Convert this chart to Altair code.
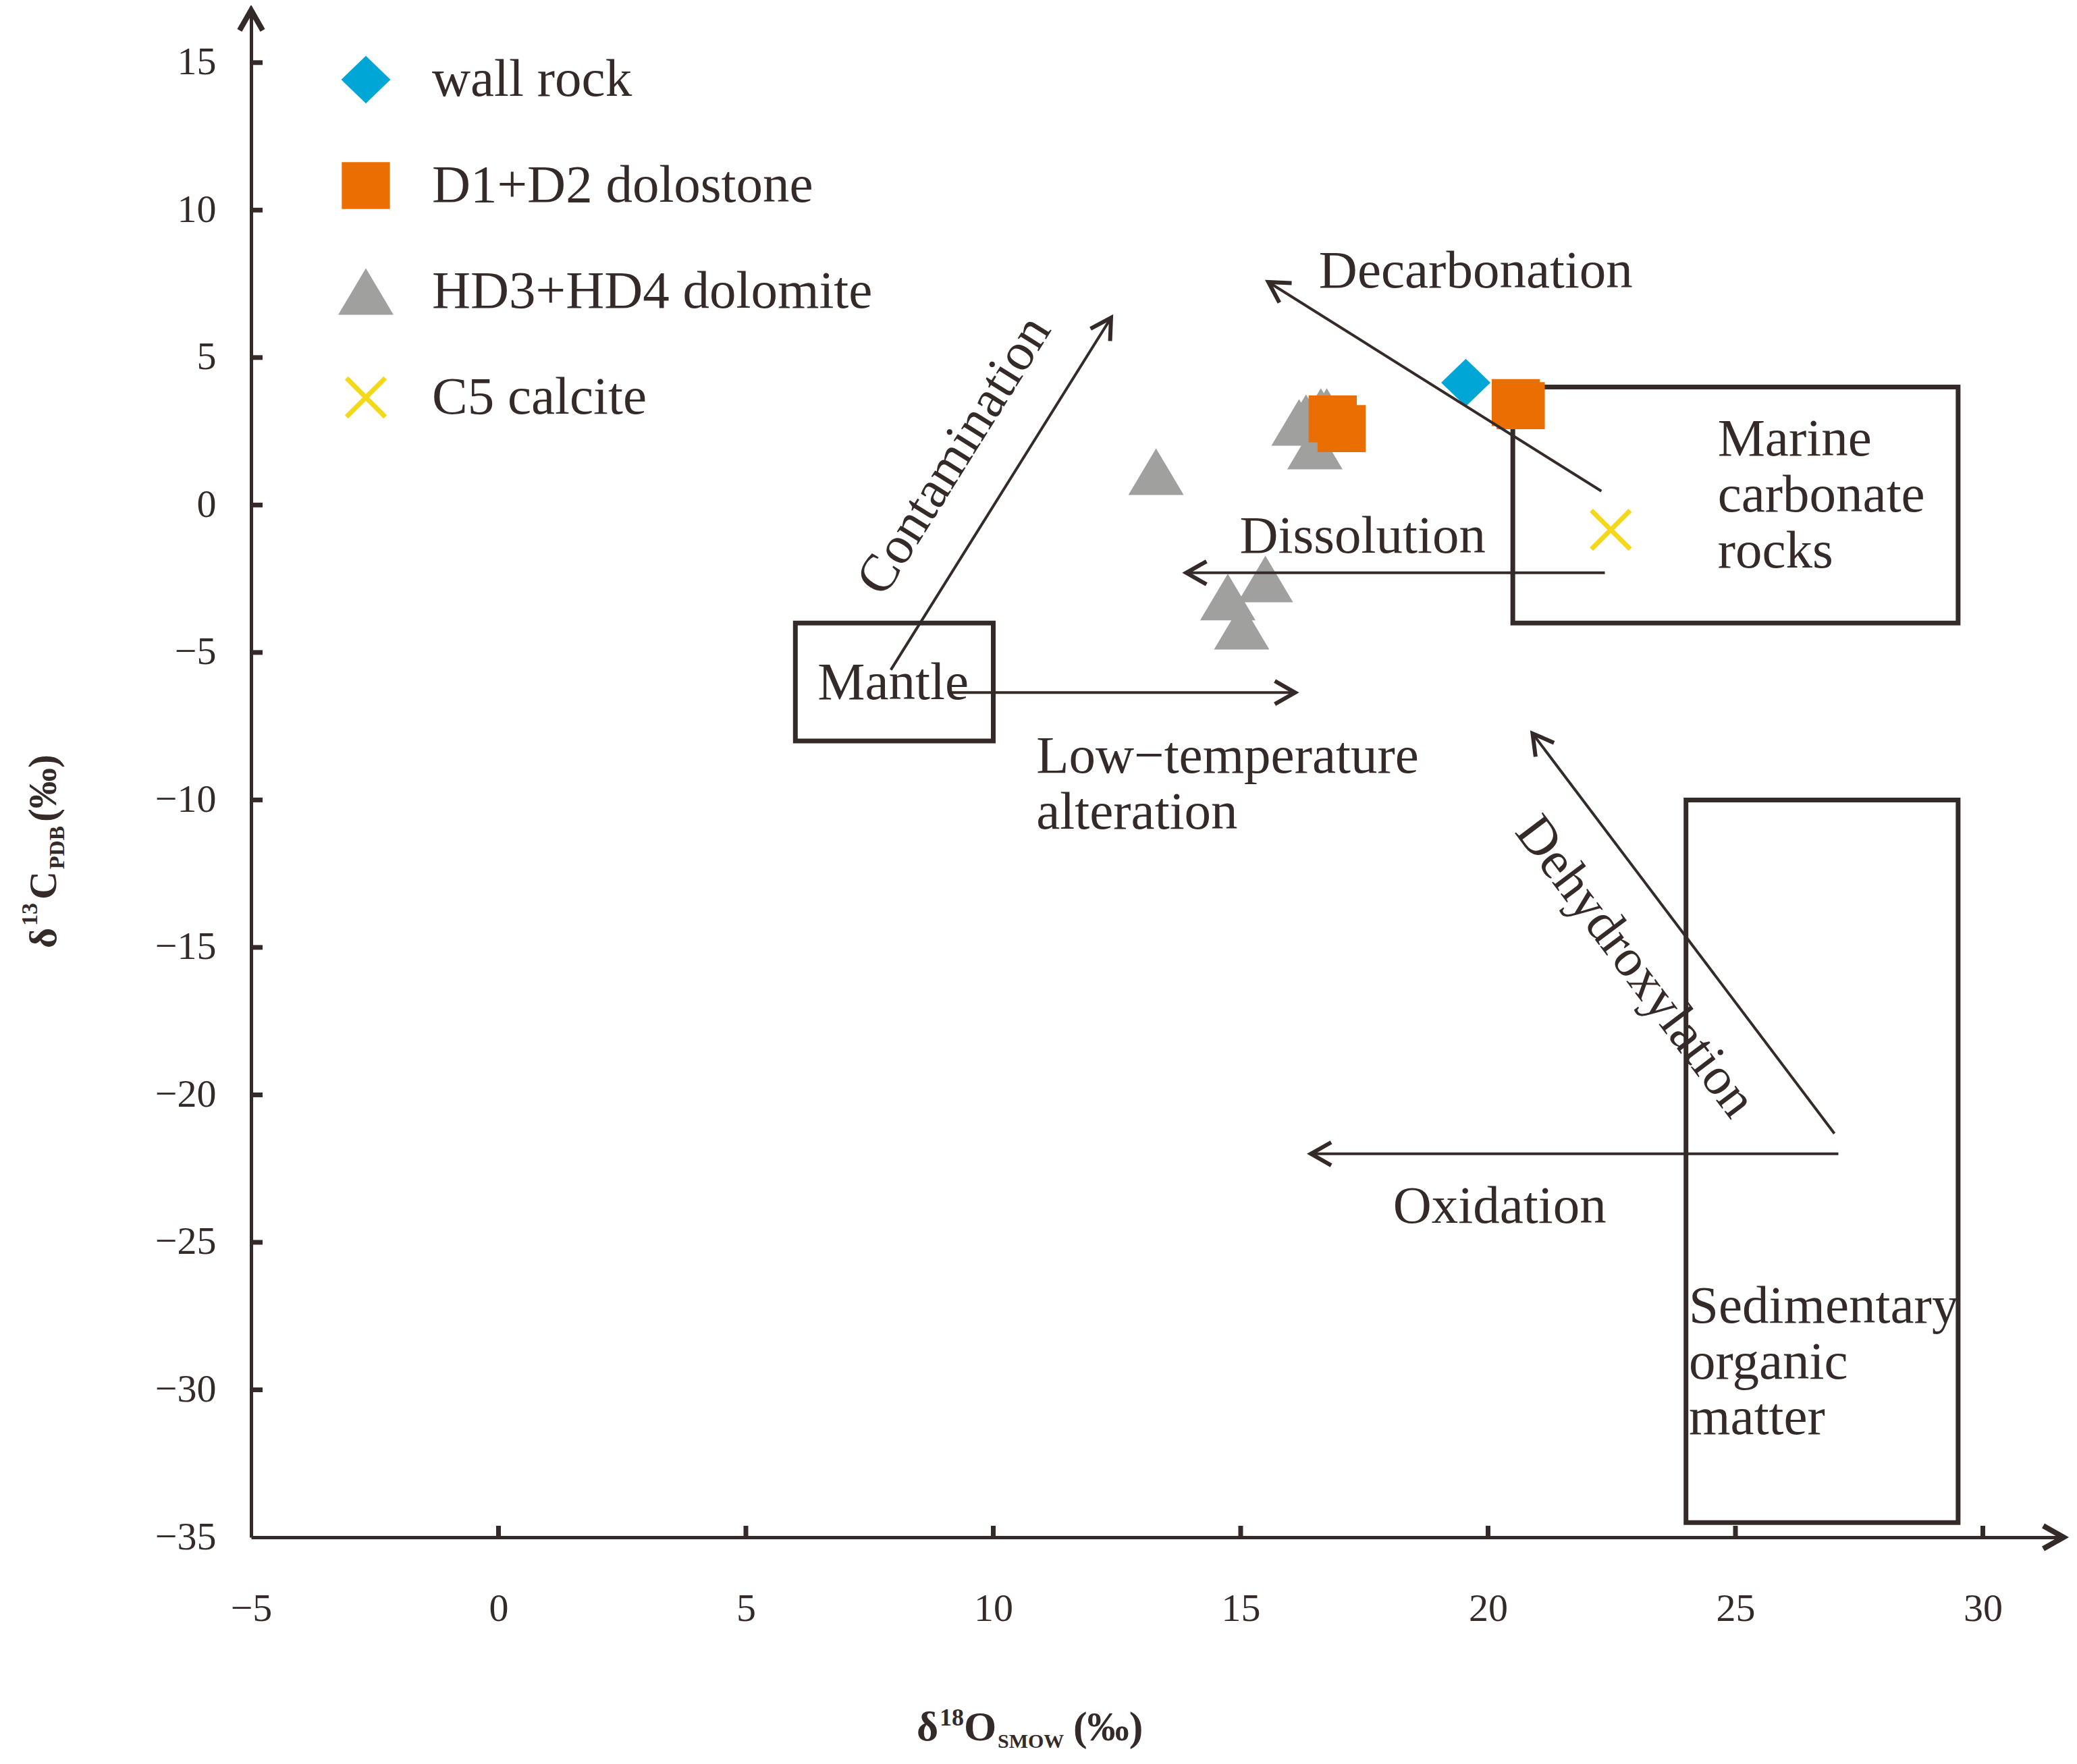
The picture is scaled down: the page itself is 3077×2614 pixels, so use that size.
import math
import altair as alt
import pandas as pd

# ---------------- data ----------------
series_names = ["wall rock", "D1+D2 dolostone", "HD3+HD4 dolomite", "C5 calcite"]
series_colors = ["#00a6d6", "#eb6e02", "#a0a19f", "#f5d81a"]

wall_x = [19.55]
wall_y = [4.15]
dolo_x = [16.86, 17.04, 20.56, 20.66]
dolo_y = [2.92, 2.59, 3.47, 3.37]
hd_x = [13.29, 16.18, 16.32, 16.62, 16.74, 16.50, 15.50, 14.74, 15.02]
hd_y = [1.13, 2.80, 2.96, 3.17, 3.17, 2.00, -2.51, -3.12, -4.11]
c5_x = [22.48]
c5_y = [-0.84]

x_ticks = [-5, 0, 5, 10, 15, 20, 25, 30]
y_ticks = [-35, -30, -25, -20, -15, -10, -5, 0, 5, 10, 15]

box_names = ["Mantle", "Marine carbonate rocks", "Sedimentary organic matter"]
box_x1 = [6, 20.5, 24]
box_x2 = [10, 29.5, 29.5]
box_y1 = [-8, -4, -34.5]
box_y2 = [-4, 4, -10]

arrow_names = ["Contamination", "Decarbonation", "Dissolution",
               "Low-temperature alteration", "Dehydroxylation", "Oxidation"]
arrow_x1 = [7.93, 22.29, 22.36, 9.13, 27.00, 27.08]
arrow_y1 = [-5.59, 0.47, -2.30, -6.36, -21.31, -22.00]
arrow_x2 = [12.38, 15.56, 13.90, 16.10, 20.90, 16.42]
arrow_y2 = [6.35, 7.56, -2.30, -6.36, -7.75, -22.00]

label_text = ["Decarbonation", "Dissolution", "Marine", "carbonate", "rocks",
              "Mantle", "Low\u2212temperature", "alteration", "Oxidation",
              "Sedimentary", "organic", "matter"]
label_x = [16.58, 14.98, 24.64, 24.64, 24.64, 6.45, 10.87, 10.87, 18.08, 24.06, 24.06, 24.06]
label_y = [7.93, -1.06, 2.22, 0.33, -1.56, -6.04, -8.52, -10.42, -23.78, -27.18, -29.07, -30.96]

rot_text = ["Contamination", "Dehydroxylation"]
rot_x = [9.21, 22.98]
rot_y = [1.68, -15.65]
rot_angle = [302, 53]

# ---------------- layout / style ----------------
X_MIN, X_MAX = -5, 31.63
Y_MIN, Y_MAX = -35, 16.78
W, H = 2685, 2263
UX = W / (X_MAX - X_MIN)
UY = H / (Y_MAX - Y_MIN)

INK = "#342b29"
FONT = "Liberation Serif"
FS = 79


def poly(pts):
    return "M " + " L ".join(f"{x:.3f} {y:.3f}" for x, y in pts) + " Z"


DIAMOND = poly([(0, -0.86), (0.89, 0), (0, 0.86), (-0.89, 0)])
SQUARE = poly([(-0.87, -0.85), (0.87, -0.85), (0.87, 0.85), (-0.87, 0.85)])
TRIANGLE = poly([(0, -0.84), (1, 0.84), (-1, 0.84)])
_s, _d = 0.70, 0.085
_a, _e = _d / math.sqrt(2), _d * math.sqrt(2)
XSHAPE = poly([(_s - _a, -_s - _a), (_s + _a, -_s + _a), (_e, 0),
               (_s + _a, _s - _a), (_s - _a, _s + _a), (0, _e),
               (-_s + _a, _s + _a), (-_s - _a, _s - _a), (-_e, 0),
               (-_s - _a, -_s + _a), (-_s + _a, -_s - _a), (0, -_e)])
CHEVRON = "M -1 -0.57 L 0 0 L -1 0.57"

xs = alt.Scale(domain=[X_MIN, X_MAX], nice=False, zero=False)
ys = alt.Scale(domain=[Y_MIN, Y_MAX], nice=False, zero=False)

pts = pd.DataFrame({
    "series": [series_names[2]] * len(hd_x) + [series_names[1]] * len(dolo_x)
              + [series_names[0]] * len(wall_x) + [series_names[3]] * len(c5_x),
    "x": hd_x + dolo_x + wall_x + c5_x,
    "y": hd_y + dolo_y + wall_y + c5_y,
})

boxes = pd.DataFrame({"name": box_names, "x1": box_x1, "x2": box_x2, "y1": box_y1, "y2": box_y2})

arrows = pd.DataFrame({"name": arrow_names, "x1": arrow_x1, "y1": arrow_y1,
                       "x2": arrow_x2, "y2": arrow_y2})
arrows["ang"] = [
    math.degrees(math.atan2(-(b2 - b1) * UY, (a2 - a1) * UX)) % 360
    for a1, b1, a2, b2 in zip(arrow_x1, arrow_y1, arrow_x2, arrow_y2)
]

axis_heads = pd.DataFrame({"x": [X_MAX, X_MIN], "y": [Y_MIN, Y_MAX], "ang": [0, 270]})

labels = pd.DataFrame({"text": label_text, "x": label_x, "y": label_y})
rlabels = pd.DataFrame({"text": rot_text, "x": rot_x, "y": rot_y, "angle": rot_angle})

xt = pd.DataFrame({"v": x_ticks[1:]})
yt = pd.DataFrame({"v": y_ticks[1:]})

one = pd.DataFrame({"k": [0]})

x_axis = alt.Axis(values=x_ticks, format="d", title=None, grid=False, ticks=False, tickSize=0,
                  labelFont=FONT, labelFontSize=58, labelColor=INK, labelPadding=77,
                  domainColor=INK, domainWidth=5, labelOverlap=False, labelFlush=False)
y_axis = alt.Axis(values=y_ticks, format="d", title=None, grid=False, ticks=False, tickSize=0,
                  labelFont=FONT, labelFontSize=58, labelColor=INK, labelPadding=52,
                  domainColor=INK, domainWidth=5, labelOverlap=False, labelFlush=False)

legend = alt.Legend(orient="none", legendX=129, legendY=62, title=None, padding=0,
                    labelFont=FONT, labelFontSize=FS, labelColor=INK, labelLimit=1000,
                    labelOffset=57, rowPadding=76, symbolSize=6724, symbolStrokeWidth=0,
                    symbolOpacity=1)

box_layer = alt.Chart(boxes).mark_rect(filled=False, color=INK, strokeWidth=7).encode(
    x=alt.X("x1:Q", scale=xs, axis=x_axis), x2="x2:Q",
    y=alt.Y("y1:Q", scale=ys, axis=y_axis), y2="y2:Q")

x_tick_layer = alt.Chart(xt).mark_rule(color=INK, strokeWidth=7).encode(
    x=alt.X("v:Q", scale=xs), y=alt.value(H), y2=alt.value(H - 17))
y_tick_layer = alt.Chart(yt).mark_rule(color=INK, strokeWidth=7).encode(
    y=alt.Y("v:Q", scale=ys), x=alt.value(0), x2=alt.value(17))

axis_head_layer = alt.Chart(axis_heads).mark_point(
    shape=CHEVRON, filled=False, color=INK, strokeWidth=8, size=3600, opacity=1).encode(
    x=alt.X("x:Q", scale=xs), y=alt.Y("y:Q", scale=ys), angle=alt.Angle("ang:Q", scale=None))

point_layer = alt.Chart(pts).mark_point(filled=True, size=6724, opacity=1).encode(
    x=alt.X("x:Q", scale=xs), y=alt.Y("y:Q", scale=ys),
    color=alt.Color("series:N", scale=alt.Scale(domain=series_names, range=series_colors), legend=legend),
    shape=alt.Shape("series:N", scale=alt.Scale(domain=series_names,
                                                 range=[DIAMOND, SQUARE, TRIANGLE, XSHAPE]), legend=legend),
)

arrow_layer = alt.Chart(arrows).mark_rule(color=INK, strokeWidth=4).encode(
    x=alt.X("x1:Q", scale=xs), y=alt.Y("y1:Q", scale=ys), x2="x2:Q", y2="y2:Q")

head_layer = alt.Chart(arrows).mark_point(
    shape=CHEVRON, filled=False, color=INK, strokeWidth=6, size=3600, opacity=1).encode(
    x=alt.X("x2:Q", scale=xs), y=alt.Y("y2:Q", scale=ys), angle=alt.Angle("ang:Q", scale=None))

label_layer = alt.Chart(labels).mark_text(
    align="left", baseline="middle", font=FONT, fontSize=FS, color=INK).encode(
    x=alt.X("x:Q", scale=xs), y=alt.Y("y:Q", scale=ys), text="text:N")

rlabel_layer = alt.Chart(rlabels).mark_text(
    align="center", baseline="middle", font=FONT, fontSize=FS, color=INK).encode(
    x=alt.X("x:Q", scale=xs), y=alt.Y("y:Q", scale=ys), text="text:N",
    angle=alt.Angle("angle:Q", scale=None))

# axis titles with super/subscripts
x_title_parts = [("\u03b4", 986, 2564, 62), ("18", 1020, 2542, 36), ("O", 1056, 2564, 62),
                 ("SMOW", 1106, 2575, 30), ("(\u2030)", 1218, 2564, 62)]
y_title_parts = [("\u03b4", -289, 1390, 58), ("13", -317, 1357, 34), ("C", -289, 1318, 58),
                 ("PDB", -277, 1273, 32), ("(\u2030)", -289, 1203, 60)]

title_layers = []
for t, px, py, fs in x_title_parts:
    title_layers.append(alt.Chart(one).mark_text(
        align="left", baseline="alphabetic", font=FONT, fontWeight="bold", fontSize=fs, color=INK).encode(
        x=alt.value(px), y=alt.value(py), text=alt.value(t)))
for t, px, py, fs in y_title_parts:
    title_layers.append(alt.Chart(one).mark_text(
        align="left", baseline="alphabetic", font=FONT, fontWeight="bold", fontSize=fs, color=INK,
        angle=270).encode(
        x=alt.value(px), y=alt.value(py), text=alt.value(t)))

chart = alt.layer(
    box_layer, x_tick_layer, y_tick_layer, axis_head_layer, point_layer,
    arrow_layer, head_layer, label_layer, rlabel_layer, *title_layers
).properties(
    width=W, height=H,
    autosize=alt.AutoSizeParams(type="none"),
    padding={"left": 364, "top": 7, "right": 10, "bottom": 320},
    background="white",
).configure_view(strokeWidth=0)

chart.save("out.html", embed_options={"renderer": "svg", "actions": False})
